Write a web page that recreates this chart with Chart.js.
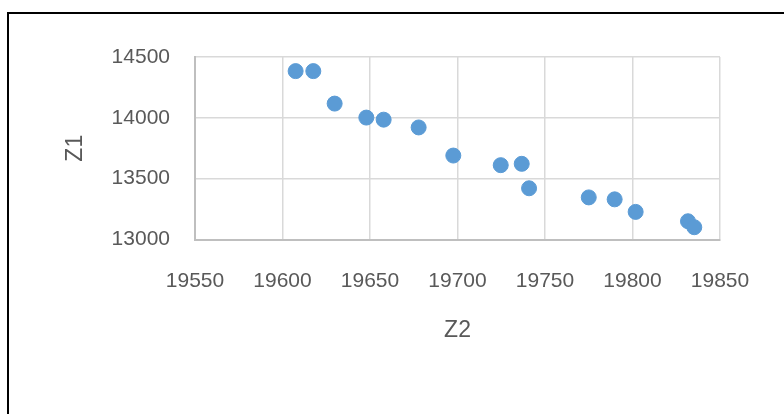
<!DOCTYPE html>
<html>
<head>
<meta charset="utf-8">
<script src="https://cdn.jsdelivr.net/npm/chart.js@4"></script>
<style>
  html, body { margin: 0; padding: 0; background: #fff; }
  #wrap { position: relative; width: 784px; height: 414px; overflow: hidden; }
  #frame { position: absolute; left: 7px; top: 12px; width: 790px; height: 420px;
           border-left: 2px solid #000; border-top: 2px solid #000; box-sizing: border-box; }
  canvas { position: absolute; left: 0; top: 0; }
</style>
</head>
<body>
<div id="wrap">
  <div id="frame"></div>
  <canvas id="myScatter" width="784" height="414"></canvas>
</div>
<script>
// values
var z2 = [19607.5, 19617.6, 19629.8, 19647.9, 19657.8, 19677.8, 19697.6, 19724.7,
          19736.7, 19740.9, 19775.0, 19789.8, 19801.8, 19831.7, 19835.3];
var z1 = [14384, 14384, 14117, 14002, 13985, 13921, 13690, 13611,
          13622, 13421, 13346, 13330, 13227, 13150, 13101];
var xTicks = [19550, 19600, 19650, 19700, 19750, 19800, 19850];
var yTicks = [13000, 13500, 14000, 14500];

var points = z2.map(function (x, i) { return { x: x, y: z1[i] }; });
var tickFont = { family: 'Liberation Sans', size: 21 };
var titleFont = { family: 'Liberation Sans', size: 23 };
var plain = function (v) { return String(v); };

var ctx = document.getElementById('myScatter').getContext('2d');
var myScatter = new Chart(ctx, {
  type: 'scatter',
  data: {
    datasets: [{
      label: 'Z1',
      data: points,
      backgroundColor: '#5B9BD5',
      borderColor: '#5B9BD5',
      pointRadius: 7.5,
      pointHoverRadius: 7.5
    }]
  },
  options: {
    responsive: false,
    animation: false,
    layout: { padding: { top: 57, right: 64, left: 0, bottom: 0 } },
    plugins: { legend: { display: false }, tooltip: { enabled: false } },
    scales: {
      x: {
        type: 'linear',
        min: 19550,
        max: 19850,
        afterBuildTicks: function (s) { s.ticks = xTicks.map(function (v) { return { value: v }; }); },
        afterFit: function (s) { s.height = 414 - 239.5; },
        grid: { color: '#D9D9D9', lineWidth: 1.5, drawTicks: false },
        border: { color: '#BFBFBF', width: 2 },
        ticks: { color: '#595959', font: tickFont, padding: 29, maxRotation: 0, callback: plain },
        title: { display: true, text: 'Z2', color: '#595959', font: titleFont, padding: { bottom: 70 } }
      },
      y: {
        type: 'linear',
        min: 13000,
        max: 14500,
        afterBuildTicks: function (s) { s.ticks = yTicks.map(function (v) { return { value: v }; }); },
        afterFit: function (s) { s.width = 195; },
        grid: { color: '#D9D9D9', lineWidth: 1.5, drawTicks: false },
        border: { color: '#BFBFBF', width: 2 },
        ticks: { color: '#595959', font: tickFont, padding: 25, callback: plain },
        title: { display: true, text: 'Z1', color: '#595959', font: titleFont, padding: { top: 62 } }
      }
    }
  }
});
</script>
</body>
</html>
